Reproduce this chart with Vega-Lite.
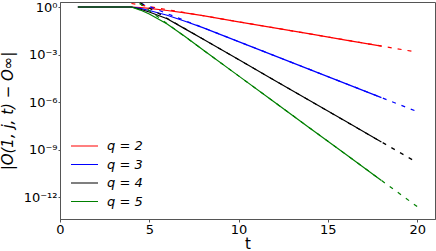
{
  "$schema": "https://vega.github.io/schema/vega-lite/v6.json",
  "width": 375,
  "height": 217,
  "autosize": {"type": "none"},
  "padding": {"left": 60, "top": 2, "right": 1, "bottom": 32},
  "background": "white",
  "config": {
    "view": {"stroke": "#555555", "strokeWidth": 1},
    "font": "DejaVu Sans",
    "axis": {
      "grid": false,
      "domainColor": "#555555",
      "tickColor": "#555555",
      "labelFont": "DejaVu Sans",
      "labelFontSize": 13,
      "labelColor": "#000000",
      "titleFont": "DejaVu Sans",
      "titleFontSize": 15,
      "titleFontWeight": "normal",
      "titleColor": "#000000"
    }
  },
  "data": {
    "values": [
      {"q": "q = 2", "kind": "data", "t": 1, "v": 1},
      {"q": "q = 2", "kind": "data", "t": 2, "v": 1},
      {"q": "q = 2", "kind": "data", "t": 3, "v": 1},
      {"q": "q = 2", "kind": "data", "t": 4, "v": 1},
      {"q": "q = 2", "kind": "data", "t": 4.5, "v": 0.93},
      {"q": "q = 2", "kind": "data", "t": 5, "v": 0.81},
      {"q": "q = 2", "kind": "data", "t": 6, "v": 0.6},
      {"q": "q = 2", "kind": "data", "t": 7, "v": 0.43},
      {"q": "q = 2", "kind": "data", "t": 8, "v": 0.282},
      {"q": "q = 2", "kind": "data", "t": 10, "v": 0.1164},
      {"q": "q = 2", "kind": "data", "t": 12, "v": 0.0481},
      {"q": "q = 2", "kind": "data", "t": 14, "v": 0.01986},
      {"q": "q = 2", "kind": "data", "t": 16, "v": 0.0082},
      {"q": "q = 2", "kind": "data", "t": 18, "v": 0.00339},
      {"q": "q = 3", "kind": "data", "t": 1, "v": 1},
      {"q": "q = 3", "kind": "data", "t": 2, "v": 1},
      {"q": "q = 3", "kind": "data", "t": 3, "v": 1},
      {"q": "q = 3", "kind": "data", "t": 4, "v": 1},
      {"q": "q = 3", "kind": "data", "t": 4.5, "v": 0.82},
      {"q": "q = 3", "kind": "data", "t": 5, "v": 0.6},
      {"q": "q = 3", "kind": "data", "t": 6, "v": 0.3},
      {"q": "q = 3", "kind": "data", "t": 7, "v": 0.125},
      {"q": "q = 3", "kind": "data", "t": 8, "v": 0.0501},
      {"q": "q = 3", "kind": "data", "t": 10, "v": 0.00655},
      {"q": "q = 3", "kind": "data", "t": 12, "v": 8.55e-4},
      {"q": "q = 3", "kind": "data", "t": 14, "v": 1.117e-4},
      {"q": "q = 3", "kind": "data", "t": 16, "v": 1.459e-5},
      {"q": "q = 3", "kind": "data", "t": 18, "v": 1.905e-6},
      {"q": "q = 4", "kind": "data", "t": 1, "v": 1},
      {"q": "q = 4", "kind": "data", "t": 2, "v": 1},
      {"q": "q = 4", "kind": "data", "t": 3, "v": 1},
      {"q": "q = 4", "kind": "data", "t": 4, "v": 1},
      {"q": "q = 4", "kind": "data", "t": 4.5, "v": 0.72},
      {"q": "q = 4", "kind": "data", "t": 5, "v": 0.48},
      {"q": "q = 4", "kind": "data", "t": 6, "v": 0.18},
      {"q": "q = 4", "kind": "data", "t": 7, "v": 0.0417},
      {"q": "q = 4", "kind": "data", "t": 8, "v": 0.00955},
      {"q": "q = 4", "kind": "data", "t": 10, "v": 4.79e-4},
      {"q": "q = 4", "kind": "data", "t": 12, "v": 2.4e-5},
      {"q": "q = 4", "kind": "data", "t": 14, "v": 1.202e-6},
      {"q": "q = 4", "kind": "data", "t": 16, "v": 6.03e-8},
      {"q": "q = 4", "kind": "data", "t": 18, "v": 3.02e-9},
      {"q": "q = 5", "kind": "data", "t": 1, "v": 1},
      {"q": "q = 5", "kind": "data", "t": 2, "v": 1},
      {"q": "q = 5", "kind": "data", "t": 3, "v": 1},
      {"q": "q = 5", "kind": "data", "t": 4, "v": 1},
      {"q": "q = 5", "kind": "data", "t": 4.5, "v": 0.64},
      {"q": "q = 5", "kind": "data", "t": 5, "v": 0.36},
      {"q": "q = 5", "kind": "data", "t": 6, "v": 0.085},
      {"q": "q = 5", "kind": "data", "t": 7, "v": 0.0135},
      {"q": "q = 5", "kind": "data", "t": 8, "v": 0.002},
      {"q": "q = 5", "kind": "data", "t": 10, "v": 4.47e-5},
      {"q": "q = 5", "kind": "data", "t": 12, "v": 1e-6},
      {"q": "q = 5", "kind": "data", "t": 14, "v": 2.24e-8},
      {"q": "q = 5", "kind": "data", "t": 16, "v": 5.01e-10},
      {"q": "q = 5", "kind": "data", "t": 18, "v": 1.122e-11},
      {"q": "q = 2", "kind": "fit", "t": 4, "v": 1.66},
      {"q": "q = 2", "kind": "fit", "t": 20, "v": 0.00141},
      {"q": "q = 3", "kind": "fit", "t": 4, "v": 2.94},
      {"q": "q = 3", "kind": "fit", "t": 20, "v": 2.49e-7},
      {"q": "q = 4", "kind": "fit", "t": 4, "v": 3.8},
      {"q": "q = 4", "kind": "fit", "t": 20, "v": 1.514e-10},
      {"q": "q = 5", "kind": "fit", "t": 4, "v": 3.98},
      {"q": "q = 5", "kind": "fit", "t": 20, "v": 2.51e-13}
    ]
  },
  "encoding": {
    "x": {
      "field": "t", "type": "quantitative",
      "scale": {"domain": [0, 21], "nice": false, "zero": false},
      "axis": {"values": [0, 5, 10, 15, 20], "title": "t", "tickSize": 3, "labelPadding": 1, "titlePadding": 0, "labelFlush": false}
    },
    "y": {
      "field": "v", "type": "quantitative",
      "scale": {"type": "log", "domain": [4.1e-14, 2.07], "nice": false},
      "axis": {
        "values": [1e-12, 1e-9, 1e-6, 0.001, 1],
        "labelExpr": "datum.value > 0.5 ? '10⁰' : datum.value > 5e-4 ? '10⁻³' : datum.value > 5e-7 ? '10⁻⁶' : datum.value > 5e-10 ? '10⁻⁹' : '10⁻¹²'",
        "title": "|O(1, j, t) − O∞|",
        "titleFontStyle": "italic",
        "tickSize": 2,
        "labelPadding": 1,
        "titlePadding": 8,
        "labelFlush": false
      }
    },
    "color": {
      "field": "q", "type": "nominal",
      "scale": {"domain": ["q = 2", "q = 3", "q = 4", "q = 5"], "range": ["#ff0000", "#0000ff", "#000000", "#008000"]}
    }
  },
  "layer": [
    {
      "transform": [{"filter": "datum.kind === 'data'"}],
      "mark": {"type": "line", "strokeWidth": 1.2, "clip": true},
      "encoding": {
        "color": {
          "field": "q", "type": "nominal",
          "legend": {
            "title": null,
            "orient": "none",
            "legendX": 10,
            "legendY": 137,
            "padding": 0,
            "symbolType": "stroke",
            "symbolSize": 729,
            "symbolStrokeWidth": 1.2,
            "clipHeight": 14,
            "rowPadding": 4.5,
            "labelOffset": 8,
            "labelFont": "DejaVu Sans",
            "labelFontSize": 13,
            "labelFontStyle": "italic",
            "labelColor": "#000000"
          }
        }
      }
    },
    {
      "transform": [{"filter": "datum.kind === 'fit'"}],
      "mark": {"type": "line", "strokeWidth": 1.2, "strokeDash": [4, 6], "clip": true},
      "encoding": {
        "color": {"field": "q", "type": "nominal", "legend": null}
      }
    }
  ]
}
